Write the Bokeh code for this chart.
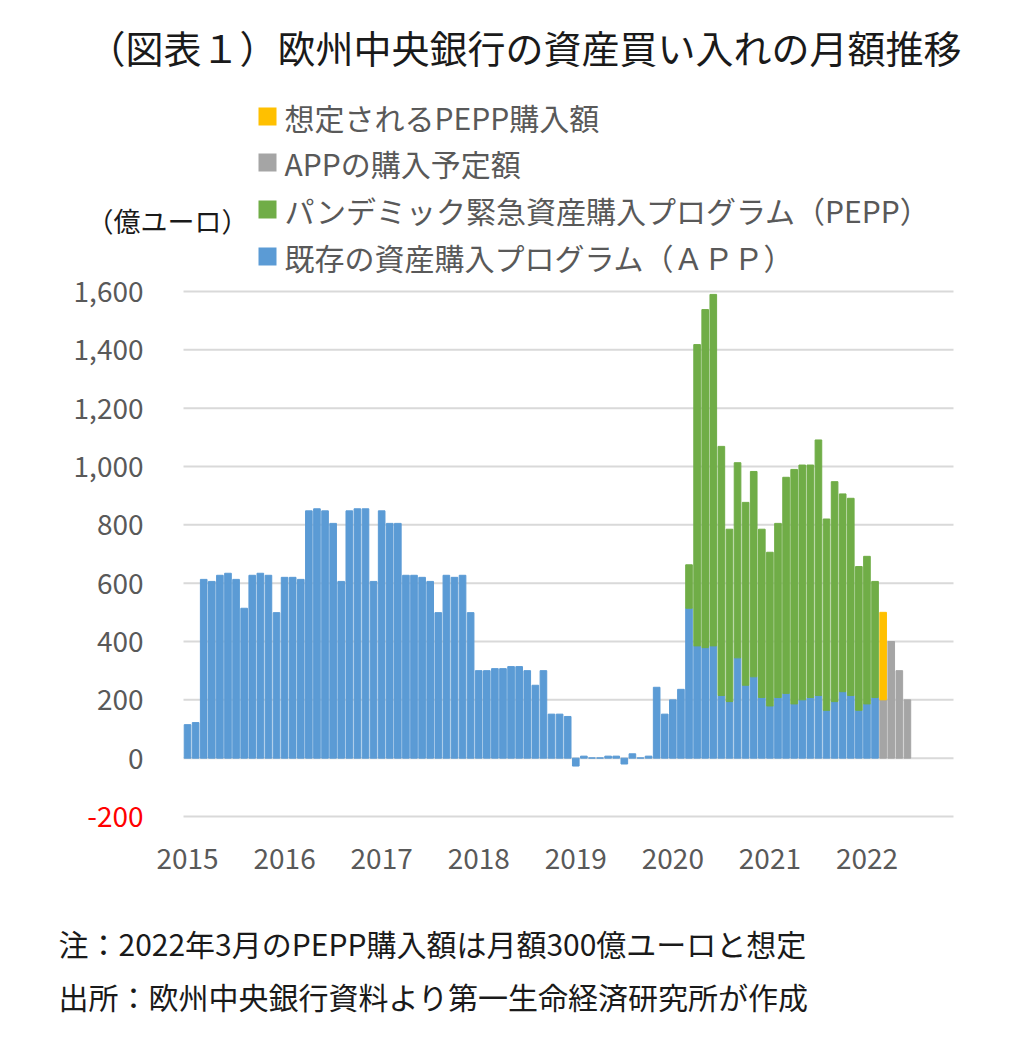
from bokeh.plotting import figure
from bokeh.models import Range1d, ColumnDataSource
from bokeh.core.properties import value
from bokeh.embed import file_html
from bokeh.resources import INLINE

# ---------------- data (億ユーロ, monthly from Jan 2015) ----------------
years = ["2015", "2016", "2017", "2018", "2019", "2020", "2021", "2022"]

# 既存の資産購入プログラム（APP）: Jan 2015 - Feb 2022
app = [
    115, 122, 613, 606, 627, 634, 613, 514, 627, 634, 627, 499,   # 2015
    620, 620, 613, 848, 855, 848, 805, 606, 848, 855, 855, 606,   # 2016
    848, 805, 805, 627, 627, 620, 606, 499, 627, 620, 627, 499,   # 2017
    300, 300, 307, 307, 314, 314, 300, 250, 300, 151, 151, 143,   # 2018
    -27, 7, 1, 1, 7, 7, -20, 15, 1, 7, 243, 151,                  # 2019
    200, 236, 514, 385, 379, 385, 215, 194, 344, 250, 279, 208,   # 2020
    179, 208, 222, 186, 200, 208, 215, 164, 194, 228, 215, 164,   # 2021
    186, 208,                                                     # 2022
]
# パンデミック緊急資産購入プログラム（PEPP）: Mar 2020 - Feb 2022
pepp_start = 62
pepp = [149, 1033, 1159, 1205, 854, 591, 669, 627, 704, 577,
        527, 597, 741, 804, 805, 797, 876, 656, 754, 678, 676, 493,
        506, 398]
# APPの購入予定額: Mar 2022 - Jun 2022
plan_start = 86
app_planned = [200, 400, 300, 200]
# 想定されるPEPP購入額: Mar 2022
pepp_assumed = [300]

y_ticks = [-200, 0, 200, 400, 600, 800, 1000, 1200, 1400, 1600]
y_tick_labels = ["-200", "0", "200", "400", "600", "800", "1,000", "1,200", "1,400", "1,600"]

legend_labels = ["想定されるPEPP購入額", "APPの購入予定額",
                 "パンデミック緊急資産購入プログラム（PEPP）",
                 "既存の資産購入プログラム（ＡＰＰ）"]
title_text = "（図表１）欧州中央銀行の資産買い入れの月額推移"
unit_text = "（億ユーロ）"
note1 = "注：2022年3月のPEPP購入額は月額300億ユーロと想定"
note2 = "出所：欧州中央銀行資料より第一生命経済研究所が作成"

BLUE, GREEN, GRAY, YELLOW = "#5B9BD5", "#70AD47", "#A5A5A5", "#FFC000"
FONT = value("Noto Sans CJK JP")
TXT = "#595959"
DARK = "#1A1A1A"

# ---------------- sources ----------------
blue_src = ColumnDataSource(dict(x=list(range(len(app))), top=app))
g_x = list(range(pepp_start, pepp_start + len(pepp)))
green_src = ColumnDataSource(dict(x=g_x, bottom=[app[i] for i in g_x],
                                  top=[app[i] + v for i, v in zip(g_x, pepp)]))
gr_x = list(range(plan_start, plan_start + len(app_planned)))
gray_src = ColumnDataSource(dict(x=gr_x, top=app_planned))
y_x = list(range(plan_start, plan_start + len(pepp_assumed)))
yellow_src = ColumnDataSource(dict(x=y_x, bottom=app_planned[:len(pepp_assumed)],
                                   top=[b + v for b, v in zip(app_planned, pepp_assumed)]))

# ---------------- geometry: plot area 183..953 x 291..816 on a 1020x1038 canvas ----------------
W, H = 1020, 1038
FL, FR, FT, FB = 183, 953, 291, 816
X0, X1 = -0.5, 94.7
Y0, Y1 = -200, 1600
sx = (FR - FL) / (X1 - X0)
sy = (FB - FT) / (Y1 - Y0)


def dx(px):
    return X0 + (px - FL) / sx


def dy(py):
    return Y1 - (py - FT) / sy


p = figure(width=W, height=H, output_backend="svg", toolbar_location=None,
           x_range=Range1d(dx(0), dx(W)), y_range=Range1d(dy(H), dy(0)),
           x_axis_type=None, y_axis_type=None,
           min_border=0, min_border_left=0, min_border_right=0,
           min_border_top=0, min_border_bottom=0)
p.outline_line_color = None
p.background_fill_color = "white"
p.border_fill_color = "white"
p.grid.visible = False

# gridlines
p.segment(x0=[X0] * len(y_ticks), x1=[X1] * len(y_ticks), y0=y_ticks, y1=y_ticks,
          line_color="#D9D9D9", line_width=2)

# bars
bw = 0.82
p.vbar(x="x", bottom=0, top="top", width=bw, color=BLUE, source=blue_src)
p.vbar(x="x", bottom="bottom", top="top", width=bw, color=GREEN, source=green_src)
p.vbar(x="x", bottom=0, top="top", width=bw, color=GRAY, source=gray_src)
p.vbar(x="x", bottom="bottom", top="top", width=bw, color=YELLOW, source=yellow_src)

# y tick labels
p.text(x=[X0] * len(y_ticks), y=y_ticks, text=y_tick_labels, x_offset=-40,
       text_align="right", text_baseline="middle", text_font=FONT, text_font_size="28px",
       text_color=["#FF0000" if t < 0 else TXT for t in y_ticks])

# x tick labels (January of each year)
p.text(x=[12 * k for k in range(len(years))], y=[dy(858)] * len(years), text=years,
       text_align="center", text_baseline="middle", text_font=FONT, text_font_size="28px",
       text_color=TXT)

# title
p.text(x=[dx(524)], y=[dy(46)], text=[title_text], text_align="center", text_baseline="middle",
       text_font=FONT, text_font_size="38px", text_color=DARK)
# unit
p.text(x=[dx(86)], y=[dy(220)], text=[unit_text], text_align="left", text_baseline="middle",
       text_font=FONT, text_font_size="27px", text_color=DARK)

# legend
leg_colors = [YELLOW, GRAY, GREEN, BLUE]
leg_y = [116, 162, 209, 256]
p.scatter(x=[dx(267)] * 4, y=[dy(v) for v in leg_y], marker="square", size=18,
          fill_color=leg_colors, line_color=None)
p.text(x=[dx(284)] * 4, y=[dy(v) for v in leg_y], text=legend_labels,
       text_align="left", text_baseline="middle", text_font=FONT, text_font_size="30px",
       text_color=TXT)

# notes
p.text(x=[dx(58)] * 2, y=[dy(942), dy(995)], text=[note1, note2], text_align="left",
       text_baseline="middle", text_font=FONT, text_font_size="30px", text_color=DARK)

open("out.html", "w").write(file_html(p, INLINE))
